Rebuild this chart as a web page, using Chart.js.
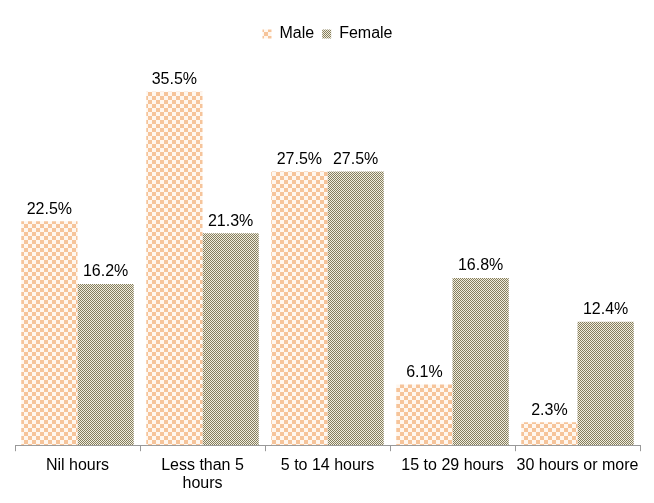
<!DOCTYPE html>
<html><head><meta charset="utf-8">
<script src="https://cdn.jsdelivr.net/npm/chart.js@4.4.1/dist/chart.umd.min.js"></script>
<style>html,body{margin:0;padding:0;background:#fff}#w{width:654px;height:503px}</style>
</head><body><div id="w"><canvas id="c"></canvas></div>
<script>
const categories = [["Nil hours"], ["Less than 5", "hours"], ["5 to 14 hours"], ["15 to 29 hours"], ["30 hours or more"]];
const seriesNames = ["Male", "Female"];
const maleValues = [22.5, 35.5, 27.5, 6.1, 2.3];
const femaleValues = [16.2, 21.3, 27.5, 16.8, 12.4];

function makePattern(size, c1, c2) {
  const p = document.createElement('canvas');
  p.width = size * 2; p.height = size * 2;
  const g = p.getContext('2d');
  g.fillStyle = c2; g.fillRect(0, 0, size * 2, size * 2);
  g.fillStyle = c1;
  g.fillRect(0, 0, size, size);
  g.fillRect(size, size, size, size);
  return g.createPattern(p, 'repeat');
}
const ctx = document.getElementById('c').getContext('2d');
const malePat = makePattern(4, '#F6C49A', '#FFF7EF');
const femalePat = makePattern(1, '#857D5E', '#F1EEDE');
const FONT = '"Liberation Sans", Arial, sans-serif';

const labelPlugin = {
  id: 'valLabels',
  afterDatasetsDraw(chart) {
    const c = chart.ctx;
    c.save();
    c.font = '16px ' + FONT;
    c.fillStyle = '#000';
    c.textAlign = 'center';
    c.textBaseline = 'bottom';
    chart.data.datasets.forEach((ds, i) => {
      chart.getDatasetMeta(i).data.forEach((bar, j) => {
        c.fillText(ds.data[j].toFixed(1) + '%', bar.x, bar.y - 4);
      });
    });
    c.restore();
  }
};

new Chart(ctx, {
  type: 'bar',
  data: {
    labels: categories,
    datasets: [
      { label: seriesNames[0], data: maleValues, backgroundColor: malePat, borderWidth: 0 },
      { label: seriesNames[1], data: femaleValues, backgroundColor: femalePat, borderWidth: 0 }
    ]
  },
  options: {
    responsive: true, maintainAspectRatio: false, animation: false,
    layout: { padding: { left: 15, right: 14, top: 18, bottom: 5 } },
    datasets: { bar: { categoryPercentage: 0.9, barPercentage: 1.0 } },
    plugins: {
      legend: {
        position: 'top',
        labels: { boxWidth: 9, boxHeight: 9, padding: 8, color: '#000',
          font: { family: FONT, size: 16 } }
      },
      tooltip: { enabled: false }
    },
    scales: {
      x: {
        grid: { display: true, drawOnChartArea: false, drawTicks: true, tickLength: 6, color: '#999', offset: true },
        border: { display: true, color: '#999' },
        ticks: { color: '#000', font: { family: FONT, size: 16, lineHeight: 1.15 }, maxRotation: 0, autoSkip: false, padding: 5 }
      },
      y: { display: false, min: 0, max: 39.5 }
    }
  },
  plugins: [labelPlugin]
});
</script></body></html>
